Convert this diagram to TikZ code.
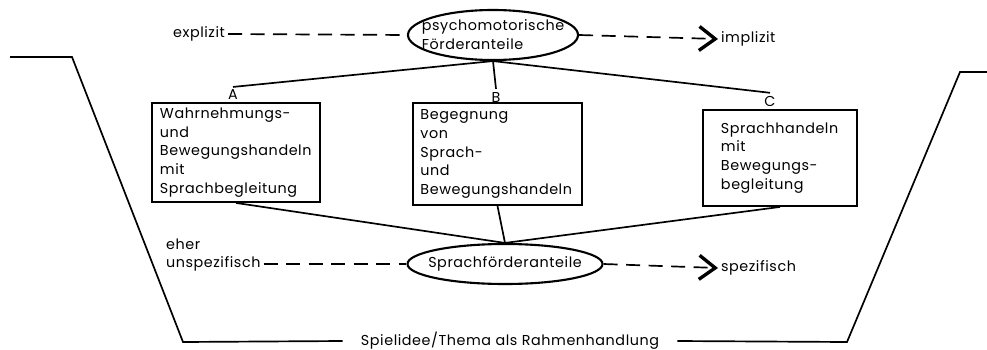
\documentclass[tikz,border=0pt]{standalone}
\usepackage{fontspec}
\setmainfont{Poppins}[LetterSpace=4]
\usepackage{tikz}
\usetikzlibrary{arrows.meta,shapes.geometric}
\tikzset{
  box/.style     ={draw, line width=1.3pt, align=left, font=\fontsize{10.2}{13.4}\selectfont, inner sep=0pt},
  oval/.style    ={draw, ellipse, line width=1.5pt, align=left, font=\fontsize{10.2}{13.4}\selectfont, inner ysep=0pt},
  lbl/.style     ={font=\fontsize{10.2}{13.4}\selectfont, inner sep=2pt, align=left},
  conn/.style    ={line width=1.2pt},
  dashline/.style={line width=1.2pt, dash pattern=on 10pt off 6pt},
  flow/.style    ={dashline, -{Straight Barb[length=4mm,width=6mm,line width=2.4pt]}}
}
\begin{document}
\begin{tikzpicture}[x=0.025cm, y=-0.025cm]
  \useasboundingbox (0,0) rectangle (987,349);
  \node[oval, inner xsep=-0.36cm, minimum width=4.25cm, minimum height=1.25cm] (psy) at (493,35) {psychomotorische\\Förderanteile};
  \node[oval, inner xsep=-0.25cm, minimum width=4.875cm, minimum height=1cm] (spr) at (505,264) {Sprachförderanteile};
  \node[lbl, anchor=east] (expl) at (228,34) {explizit};
  \node[lbl, anchor=west] (impl) at (718,39) {implizit};
  \node[lbl, anchor=west] (eher) at (163,244) {eher};
  \node[lbl, anchor=west] (unsp) at (163,264) {unspezifisch};
  \node[lbl, anchor=west] (spez) at (718,268) {spezifisch};
  \node[lbl] (la) at (233,95) {A};
  \node[lbl] (lb) at (496,97) {B};
  \node[lbl] (lc) at (770,101) {C};
  \node[box, minimum width=4.2cm, minimum height=2.475cm, text width=3.8cm] (boxa) at (236,152.5)
    {Wahrnehmungs-\\und\\Bewegungshandeln\\mit\\Sprachbegleitung};
  \node[box, minimum width=4.225cm, minimum height=2.55cm, text width=3.85cm] (boxb) at (497.5,154)
    {Begegnung\\von\\Sprach-\\und\\Bewegungshandeln};
  \node[box, minimum width=3.85cm, minimum height=2.4cm, text width=2.95cm] (boxc) at (780,158)
    {Sprachhandeln\\mit\\Bewegungs-\\begleitung};
  \node[lbl, inner xsep=0.45cm] (rahmen) at (510,341) {Spielidee/Thema als Rahmenhandlung};
  \coordinate (fl1) at (10,57);
  \coordinate (fl2) at (72,57);
  \coordinate (fl3) at (183,342);
  \coordinate (fr3) at (847,342);
  \coordinate (fr2) at (960,72);
  \coordinate (fr1) at (987,72);
  \draw[conn] (psy.south) -- (la.north);
  \draw[conn] (psy.south) -- (lb.north);
  \draw[conn] (psy.south) -- (lc.north);
  \draw[conn] (boxa.south) -- (spr.north);
  \draw[conn] (boxb.south) -- (spr.north);
  \draw[conn] (boxc.south) -- (spr.north);
  \draw[dashline] (expl.east) -- (psy.west);
  \draw[dashline] (unsp.east) -- (spr.west);
  \draw[flow] (psy.east) -- (impl.west);
  \draw[flow] (spr.east) -- (spez.west);
  \draw[conn] (fl1) -- (fl2) -- (fl3) -- (rahmen.west);
  \draw[conn] (rahmen.east) -- (fr3) -- (fr2) -- (fr1);
\end{tikzpicture}
\end{document}
